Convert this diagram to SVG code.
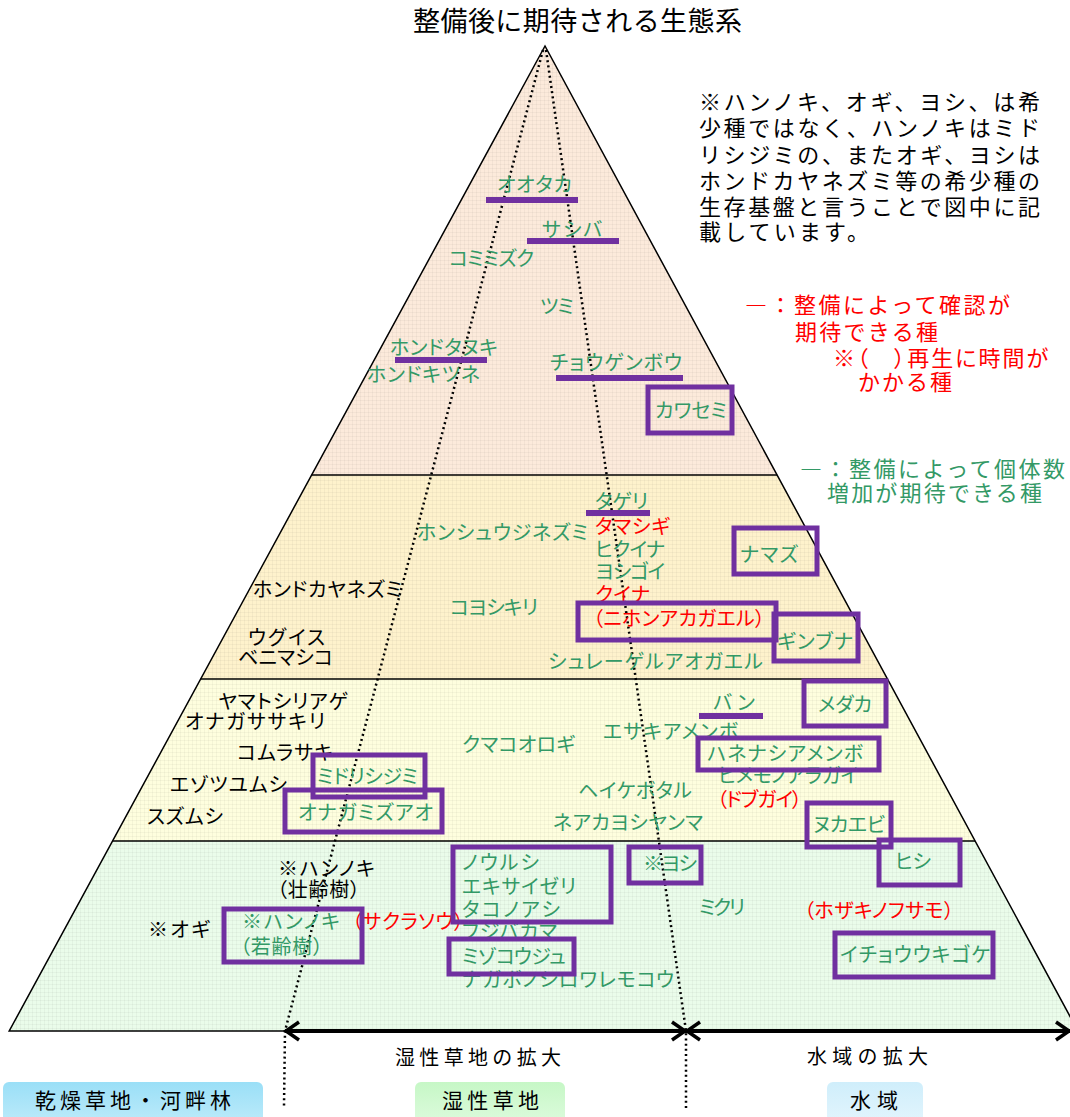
<svg xmlns="http://www.w3.org/2000/svg" width="1070" height="1117" viewBox="0 0 1070 1117">
<style>
text{font-family:"Noto Sans CJK JP","Noto Sans",sans-serif;font-size:20px;font-feature-settings:"palt"}
.g{fill:#339966}
.k{fill:#000}
.r{fill:#FF0000}
.box{fill:none;stroke:#7030A0;stroke-width:5}
.bar{fill:#7030A0}
.sep{stroke:#000;stroke-width:1.5}
.dot{fill:none;stroke:#000;stroke-width:2.5;stroke-dasharray:2 3.2}
.arr{fill:none;stroke:#000;stroke-width:3.5}
.note{font-size:22px;font-feature-settings:normal}
.lab{font-size:20px;font-feature-settings:normal}
</style>
<defs>
<pattern id="grid" width="4" height="4" patternUnits="userSpaceOnUse">
<path d="M0 0.5H4M0.5 0V4" stroke="#000" stroke-opacity="0.035" stroke-width="1"/>
</pattern>
<linearGradient id="gb1" x1="0" y1="0" x2="0" y2="1"><stop offset="0" stop-color="#9ADFF7"/><stop offset="1" stop-color="#BDEBFA"/></linearGradient>
<linearGradient id="gb2" x1="0" y1="0" x2="0" y2="1"><stop offset="0" stop-color="#C6F7C6"/><stop offset="1" stop-color="#DDFBDD"/></linearGradient>
<linearGradient id="gb3" x1="0" y1="0" x2="0" y2="1"><stop offset="0" stop-color="#CFEEFB"/><stop offset="1" stop-color="#E3F5FD"/></linearGradient>
</defs>
<rect width="1070" height="1117" fill="#fff"/>

<!-- title -->
<text x="413" y="31" style="font-size:27px;font-feature-settings:normal" textLength="329" lengthAdjust="spacing" class="k">整備後に期待される生態系</text>

<!-- pyramid bands -->
<g id="pyramid">
<polygon points="545,46 311.6,475 777.1,475" fill="#FCEADB"/>
<polygon points="311.6,475 200.6,679 887.5,679 777.1,475" fill="#FEF2CC"/>
<polygon points="200.6,679 112.5,841 975.1,841 887.5,679" fill="#FEFEDE"/>
<polygon points="112.5,841 9.2,1031 1077.9,1031 975.1,841" fill="#EAFCEA"/>
<polygon points="545,46 9.2,1031 1077.9,1031" fill="url(#grid)"/>
<polygon points="545,46 9.2,1031 1077.9,1031" fill="none" stroke="#000" stroke-width="1.5"/>
<line class="sep" x1="311.6" y1="475" x2="777.1" y2="475"/>
<line class="sep" x1="200.6" y1="679" x2="887.5" y2="679"/>
<line class="sep" x1="112.5" y1="841" x2="975.1" y2="841"/>
</g>

<!-- connectors -->
<g id="connectors">
<polyline class="dot" points="543,50 285,1031 284,1106"/>
<polyline class="dot" points="546,50 686,1031 686,1108"/>
<line x1="285" y1="1031" x2="1070" y2="1031" stroke="#000" stroke-width="4"/>
<polyline class="arr" points="299,1022 286,1031 299,1040"/>
<polyline class="arr" points="672,1022 685,1031 672,1040"/>
<polyline class="arr" points="700,1022 687,1031 700,1040"/>
<polyline class="arr" points="1056,1022 1069,1031 1056,1040"/>
</g>

<!-- note -->
<g id="note" class="k">
<text x="699" y="110" class="note" textLength="341" lengthAdjust="spacing">※ハンノキ、オギ、ヨシ、は希</text>
<text x="699" y="136" class="note" textLength="341" lengthAdjust="spacing">少種ではなく、ハンノキはミド</text>
<text x="699" y="163" class="note" textLength="341" lengthAdjust="spacing">リシジミの、またオギ、ヨシは</text>
<text x="699" y="189" class="note" textLength="341" lengthAdjust="spacing">ホンドカヤネズミ等の希少種の</text>
<text x="699" y="215" class="note" textLength="341" lengthAdjust="spacing">生存基盤と言うことで図中に記</text>
<text x="699" y="240" class="note" textLength="170" lengthAdjust="spacing">載しています。</text>
</g>

<!-- legend -->
<g id="legend-red" class="r">
<text x="745" y="313" class="note" textLength="265" lengthAdjust="spacing">―：整備によって確認が</text>
<text x="795" y="340" class="note" textLength="143" lengthAdjust="spacing">期待できる種</text>
<text x="833" y="366" class="note" style="font-feature-settings:'palt'" textLength="215" lengthAdjust="spacing">※（　）再生に時間が</text>
<text x="858" y="390" class="note" textLength="94" lengthAdjust="spacing">かかる種</text>
</g>
<g id="legend-green" class="g">
<text x="800" y="477" class="note" textLength="265" lengthAdjust="spacing">―：整備によって個体数</text>
<text x="827" y="501" class="note" textLength="215" lengthAdjust="spacing">増加が期待できる種</text>
</g>

<!-- band 1 -->
<g id="ootaka"><text class="g" x="497" y="192" textLength="75" lengthAdjust="spacing">オオタカ</text><rect class="bar" x="486" y="197" width="92" height="6"/></g>
<g id="sashiba"><text class="g" x="542" y="237" textLength="60" lengthAdjust="spacing">サシバ</text><rect class="bar" x="527" y="238" width="92" height="6"/></g>
<g id="komimizuku"><text class="g" x="449" y="266" textLength="85" lengthAdjust="spacing">コミミズク</text></g>
<g id="tsumi"><text class="g" x="540" y="314" textLength="34" lengthAdjust="spacing">ツミ</text></g>
<g id="hondotanuki"><text class="g" x="390" y="355" textLength="108" lengthAdjust="spacing">ホンドタヌキ</text><rect class="bar" x="395" y="357" width="92" height="6"/></g>
<g id="hondokitsune"><text class="g" x="367" y="382" textLength="113" lengthAdjust="spacing">ホンドキツネ</text></g>
<g id="chougenbou"><text class="g" x="550" y="370" textLength="132" lengthAdjust="spacing">チョウゲンボウ</text><rect class="bar" x="556" y="375" width="127" height="6"/></g>
<g id="kawasemi"><rect class="box" x="648" y="387" width="84" height="46"/><text class="g" x="655" y="418" textLength="72" lengthAdjust="spacing">カワセミ</text></g>

<!-- band 2 -->
<g id="honshujinezumi"><text class="g" x="417" y="540" textLength="171" lengthAdjust="spacing">ホンシュウジネズミ</text></g>
<g id="hondokayanezumi"><text class="k" x="253" y="597" textLength="149" lengthAdjust="spacing">ホンドカヤネズミ</text></g>
<g id="koyoshikiri"><text class="g" x="450" y="615" textLength="88" lengthAdjust="spacing">コヨシキリ</text></g>
<g id="uguisu"><text class="k" x="248" y="645" textLength="77" lengthAdjust="spacing">ウグイス</text></g>
<g id="benimashiko"><text class="k" x="238" y="665" textLength="95" lengthAdjust="spacing">ベニマシコ</text></g>
<g id="schlegel"><text class="g" x="548" y="669" textLength="215" lengthAdjust="spacing">シュレーゲルアオガエル</text></g>
<g id="tageri"><text class="g" x="595" y="509" textLength="53" lengthAdjust="spacing">タゲリ</text><rect class="bar" x="586" y="510" width="64" height="6"/></g>
<g id="tamashigi"><text class="r" x="595" y="534" textLength="75" lengthAdjust="spacing">タマシギ</text></g>
<g id="hikuina"><text class="g" x="595" y="557" textLength="70" lengthAdjust="spacing">ヒクイナ</text></g>
<g id="yoshigoi"><text class="g" x="595" y="579" textLength="70" lengthAdjust="spacing">ヨシゴイ</text></g>
<g id="kuina"><text class="r" x="595" y="602" textLength="55" lengthAdjust="spacing">クイナ</text></g>
<g id="nihonakagaeru"><rect class="box" x="578" y="603" width="198" height="37"/><text class="r" x="593" y="626" textLength="172" lengthAdjust="spacing">（ニホンアカガエル）</text></g>
<g id="ginbuna"><rect class="box" x="774" y="614" width="84" height="47"/><text class="g" x="777" y="649" textLength="76" lengthAdjust="spacing">ギンブナ</text></g>
<g id="namazu"><rect class="box" x="734" y="528" width="83" height="46"/><text class="g" x="740" y="562" textLength="58" lengthAdjust="spacing">ナマズ</text></g>

<!-- band 3 -->
<g id="yamatoshiriage"><text class="k" x="218" y="709" textLength="130" lengthAdjust="spacing">ヤマトシリアゲ</text></g>
<g id="onagasasakiri"><text class="k" x="185" y="729" textLength="140" lengthAdjust="spacing">オナガササキリ</text></g>
<g id="komurasaki"><text class="k" x="237" y="760" textLength="96" lengthAdjust="spacing">コムラサキ</text></g>
<g id="ezotsuyumushi"><text class="k" x="170" y="792" textLength="117" lengthAdjust="spacing">エゾツユムシ</text></g>
<g id="suzumushi"><text class="k" x="147" y="824" textLength="76" lengthAdjust="spacing">スズムシ</text></g>
<g id="midorishijimi"><rect class="box" x="313" y="755" width="112" height="42"/><text class="g" x="317" y="784" textLength="101" lengthAdjust="spacing">ミドリシジミ</text></g>
<g id="onagamizuao"><rect class="box" x="285" y="790" width="157" height="42"/><text class="g" x="298" y="820" textLength="135" lengthAdjust="spacing">オナガミズアオ</text></g>
<g id="kumakoorogi"><text class="g" x="462" y="752" textLength="113" lengthAdjust="spacing">クマコオロギ</text></g>
<g id="ban"><text class="g" x="713" y="710" textLength="42" lengthAdjust="spacing">バン</text><rect class="bar" x="699" y="713" width="64" height="6"/></g>
<g id="esakiamenbo"><text class="g" x="603" y="739" textLength="135" lengthAdjust="spacing">エサキアメンボ</text></g>
<g id="medaka"><rect class="box" x="804" y="681" width="82" height="45"/><text class="g" x="818" y="712" textLength="54" lengthAdjust="spacing">メダカ</text></g>
<g id="himemonoaragai"><text class="g" x="718" y="783" textLength="140" lengthAdjust="spacing">ヒメモノアラガイ</text></g>
<g id="hanenashiamenbo"><rect class="box" x="698" y="738" width="181" height="32"/><text class="g" x="707" y="761" textLength="156" lengthAdjust="spacing">ハネナシアメンボ</text></g>
<g id="dobugai"><text class="r" x="717" y="807" textLength="85" lengthAdjust="spacing">（ドブガイ）</text></g>
<g id="heikebotaru"><text class="g" x="578" y="798" textLength="114" lengthAdjust="spacing">ヘイケボタル</text></g>
<g id="neakayoshiyanma"><text class="g" x="553" y="830" textLength="150" lengthAdjust="spacing">ネアカヨシヤンマ</text></g>
<g id="nukaebi"><rect class="box" x="807" y="803" width="84" height="44"/><text class="g" x="813" y="832" textLength="72" lengthAdjust="spacing">ヌカエビ</text></g>

<!-- band 4 -->
<g id="hannoki-old"><text class="k" x="278" y="876" textLength="97" lengthAdjust="spacing">※ハンノキ</text><text class="k" x="277" y="897" textLength="83" lengthAdjust="spacing">（壮齢樹）</text></g>
<g id="ogi"><text class="k" x="148" y="937" textLength="62" lengthAdjust="spacing">※オギ</text></g>
<g id="sakurasou"><text class="r" x="352" y="929" textLength="112" lengthAdjust="spacing">（サクラソウ）</text></g>
<g id="hannoki-young"><rect class="box" x="224" y="909" width="138" height="53"/><text class="g" x="242" y="929" textLength="98" lengthAdjust="spacing">※ハンノキ</text><text class="g" x="240" y="954" textLength="83" lengthAdjust="spacing">（若齢樹）</text></g>
<g id="fujibakama"><text class="g" x="462" y="939" textLength="95" lengthAdjust="spacing">フジバカマ</text></g>
<g id="nagabo"><text class="g" x="462" y="987" textLength="212" lengthAdjust="spacing">ナガボノシロワレモコウ</text></g>
<g id="nourushi"><rect class="box" x="453" y="847" width="158" height="75"/><text class="g" x="462" y="870" textLength="77" lengthAdjust="spacing">ノウルシ</text><text class="g" x="462" y="894" textLength="114" lengthAdjust="spacing">エキサイゼリ</text><text class="g" x="462" y="917" textLength="98" lengthAdjust="spacing">タコノアシ</text></g>
<g id="mizokouju"><rect class="box" x="449" y="939" width="125" height="35"/><text class="g" x="462" y="964" textLength="104" lengthAdjust="spacing">ミゾコウジュ</text></g>
<g id="yoshi"><rect class="box" x="629" y="847" width="72" height="36"/><text class="g" x="643" y="871" textLength="54" lengthAdjust="spacing">※ヨシ</text></g>
<g id="mikuri"><text class="g" x="699" y="915" textLength="46" lengthAdjust="spacing">ミクリ</text></g>
<g id="hozakinofusamo"><text class="r" x="804" y="918" textLength="150" lengthAdjust="spacing">（ホザキノフサモ）</text></g>
<g id="hishi"><rect class="box" x="879" y="840" width="81" height="45"/><text class="g" x="895" y="869" textLength="36" lengthAdjust="spacing">ヒシ</text></g>
<g id="ichouukigoke"><rect class="box" x="835" y="933" width="158" height="44"/><text class="g" x="840" y="962" textLength="150" lengthAdjust="spacing">イチョウウキゴケ</text></g>

<!-- axis labels -->
<g id="label-wet-expand"><text class="k lab" x="395" y="1065" textLength="166" lengthAdjust="spacing">湿性草地の拡大</text></g>
<g id="label-water-expand"><text class="k lab" x="807" y="1064" textLength="121" lengthAdjust="spacing">水域の拡大</text></g>

<!-- zone boxes -->
<g id="zone-dry"><rect x="3" y="1082" width="260" height="42" rx="6" fill="url(#gb1)"/><text class="k lab" x="35" y="1108" style="font-size:21px" textLength="196" lengthAdjust="spacing">乾燥草地・河畔林</text></g>
<g id="zone-wet"><rect x="415" y="1082" width="150" height="42" rx="6" fill="url(#gb2)"/><text class="k lab" x="442" y="1108" style="font-size:21px" textLength="97" lengthAdjust="spacing">湿性草地</text></g>
<g id="zone-water"><rect x="827" y="1082" width="96" height="42" rx="6" fill="url(#gb3)"/><text class="k lab" x="850" y="1108" style="font-size:21px" textLength="48" lengthAdjust="spacing">水域</text></g>
</svg>
